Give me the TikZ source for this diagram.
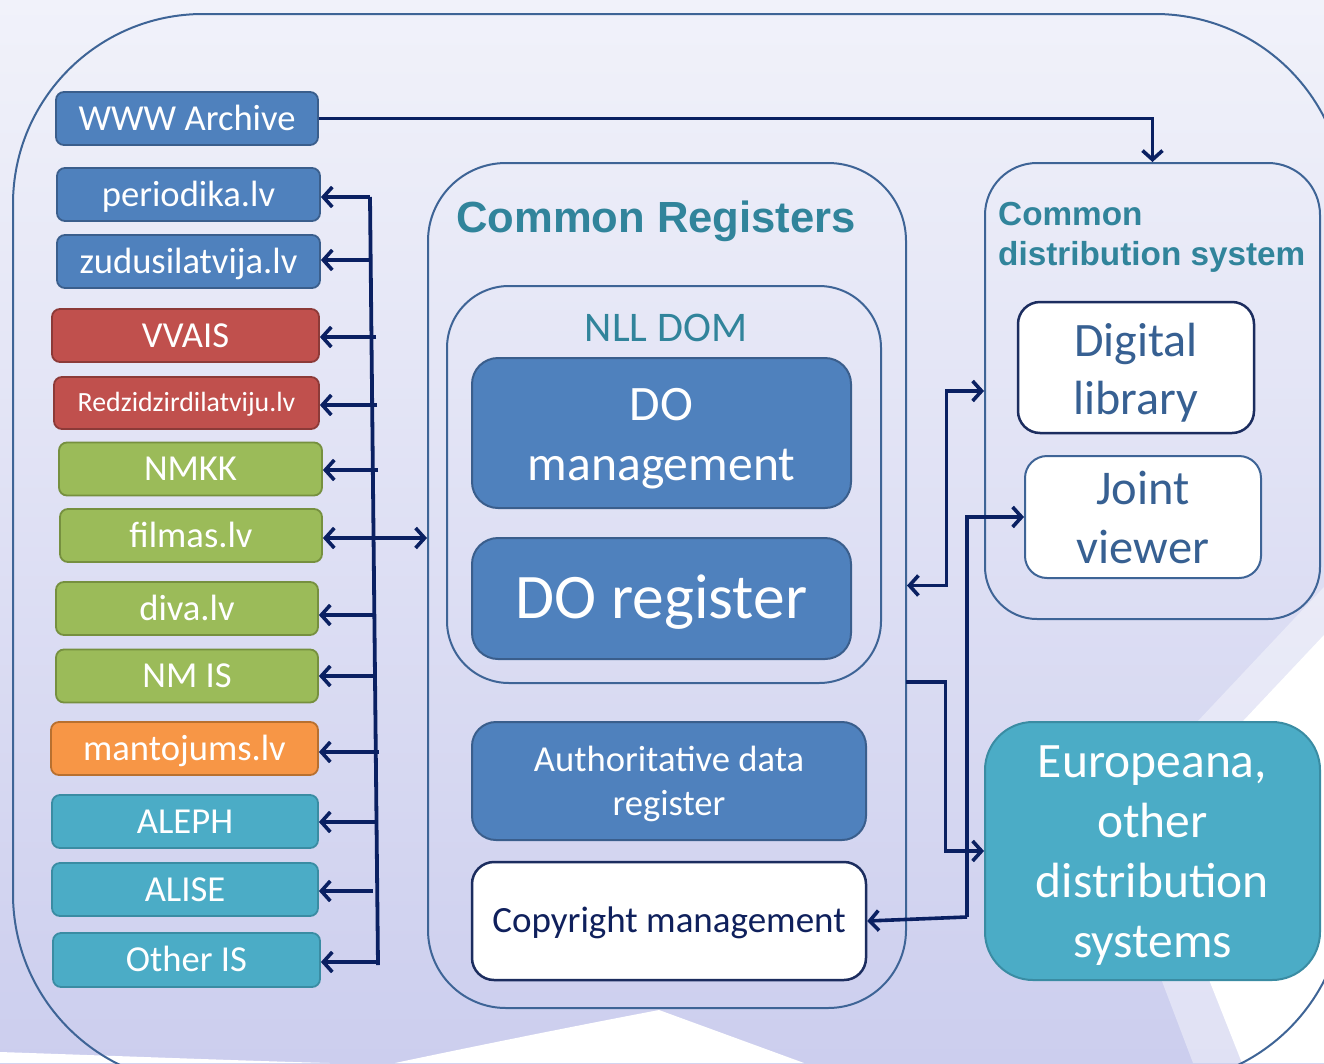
\documentclass[tikz,border=0pt]{standalone}
\usepackage{fontspec}
\setmainfont{Carlito}
\newfontfamily\arialfont{Liberation Sans}
\usetikzlibrary{arrows.meta,calc}
\definecolor{bgtop}{RGB}{241,242,250}
\definecolor{bgbot}{RGB}{204,206,238}
\definecolor{frame}{RGB}{62,100,150}
\definecolor{navy}{RGB}{10,32,98}
\definecolor{navyb}{RGB}{28,45,95}
\definecolor{cblue}{RGB}{79,129,189}
\definecolor{cblueb}{RGB}{58,94,140}
\definecolor{cred}{RGB}{192,80,77}
\definecolor{credb}{RGB}{140,58,56}
\definecolor{cgreen}{RGB}{155,187,89}
\definecolor{cgreenb}{RGB}{118,144,63}
\definecolor{corange}{RGB}{247,150,70}
\definecolor{corangeb}{RGB}{184,112,47}
\definecolor{cteal}{RGB}{75,172,198}
\definecolor{ctealb}{RGB}{58,140,163}
\definecolor{tealtxt}{RGB}{49,132,155}
\definecolor{dltxt}{RGB}{55,96,146}
\definecolor{cprtxt}{RGB}{15,32,92}
\begin{document}
\begin{tikzpicture}[x=1pt,y=-1pt,
  tipb/.tip={Straight Barb[length=9pt,width=20pt]},
  arr/.style={draw=navy, line width=3.6pt, -tipb},
  biarr/.style={draw=navy, line width=3.6pt, tipb-tipb},
  busline/.style={draw=navy, line width=3.8pt},
  cont/.style={draw=frame, line width=2pt},
  lbox/.style={rounded corners=8pt, line width=1.8pt, minimum height=53pt, inner sep=0pt,
    text=white, font=\fontsize{36.6}{43}\selectfont, text height=23.1pt, text depth=0pt},
  blueb/.style={lbox, fill=cblue, draw=cblueb},
  redb/.style={lbox, fill=cred, draw=credb},
  greenb/.style={lbox, fill=cgreen, draw=cgreenb},
  orangeb/.style={lbox, fill=corange, draw=corangeb},
  tealb/.style={lbox, fill=cteal, draw=ctealb},
  dbox/.style={fill=cblue, draw=cblueb, line width=2pt, rounded corners=26pt, inner sep=0pt, text=white},
  wbox/.style={fill=white, line width=2.5pt, rounded corners=22pt, inner sep=0pt},
]
\useasboundingbox (0,0) rectangle (1324,1063);
\clip (0,0) rectangle (1324,1063);
% background
\shade[top color=bgtop, bottom color=bgbot] (0,0) rectangle (1324,1063);
\fill[white] (0,1063) -- (0,1052) .. controls (120,1056) and (250,1061) .. (330,1063) -- cycle;
\fill[white] (395,1063) .. controls (480,1045) and (580,1025) .. (659,1010) -- (804,1063) -- cycle;
\fill[white, opacity=0.4] (1324,587) -- (1102,823) -- (1193,1063) -- (1324,1063) -- cycle;
\fill[white] (1324,635) -- (1147,823) -- (1242,1063) -- (1324,1063) -- cycle;
\draw[frame, line width=2pt, rounded corners=190pt] (13,14) rectangle (1345,1084);

% left column
\node[blueb, minimum width=262pt] (www) at (187,118.5) {WWW Archive};
\node[blueb, minimum width=263pt] (per) at (188.5,194.5) {periodika.lv};
\node[blueb, minimum width=263pt] (zud) at (188.5,261.5) {zudusilatvija.lv};
\node[redb, minimum width=267pt] (vva) at (185.5,335.5) {VVAIS};
\node[redb, minimum width=265pt, minimum height=52pt, font=\fontsize{27.8}{33}\selectfont, text height=17.6pt] (red) at (186.5,403) {Redzidzirdilatviju.lv};
\node[greenb, minimum width=263pt] (nmk) at (190.5,469) {NMKK};
\node[greenb, minimum width=262pt] (fil) at (191,535.5) {filmas.lv};
\node[greenb, minimum width=262pt] (div) at (187,608.5) {diva.lv};
\node[greenb, minimum width=262pt] (nmi) at (187,676) {NM IS};
\node[orangeb, minimum width=267pt] (man) at (184.5,748.5) {mantojums.lv};
\node[tealb, minimum width=266pt] (ale) at (185,821.5) {ALEPH};
\node[tealb, minimum width=266pt] (als) at (185,889.5) {ALISE};
\node[tealb, minimum width=267pt, minimum height=54pt] (oth) at (186.5,960) {Other IS};

% common registers
\node[cont, rounded corners=78pt, minimum width=478pt, minimum height=845pt] (cr) at (667,585.5) {};
\node[anchor=base, inner sep=0pt, text=tealtxt, font=\arialfont\bfseries\fontsize{43.6}{50}\selectfont] (crt) at (656,232) {Common Registers};
\node[cont, rounded corners=62pt, minimum width=434pt, minimum height=397pt] (nll) at (664,484.5) {};
\node[anchor=base, inner sep=0pt, text=tealtxt, font=\fontsize{42.2}{49}\selectfont] (nllt) at (666,341) {NLL DOM};
\node[dbox, minimum width=379pt, minimum height=150pt, font=\fontsize{49.6}{60}\selectfont, align=center] (dom) at (661.5,433) {\rule{0pt}{44.2pt}DO\\management};
\node[dbox, minimum width=379pt, minimum height=121pt, font=\fontsize{63.5}{74}\selectfont, text height=40.1pt, text depth=0pt] (dor) at (661.5,598.5) {DO register};
\node[dbox, rounded corners=24pt, minimum width=394pt, minimum height=118pt, font=\fontsize{36.6}{44}\selectfont, align=center] (adr) at (669,781) {\rule{0pt}{31.6pt}Authoritative data\\register};
\node[wbox, draw=navyb, minimum width=394pt, minimum height=118pt, text=cprtxt, font=\fontsize{37}{44}\selectfont, text height=23.4pt, text depth=0pt] (cm) at (669,921) {Copyright management};

% common distribution system
\node[cont, rounded corners=52pt, minimum width=335pt, minimum height=456pt] (cds) at (1152.5,391) {};
\node[anchor=north west, inner sep=0pt, align=left, text=tealtxt, font=\arialfont\bfseries\fontsize{33.3}{39.5}\selectfont] (cdst) at (998,202.5) {Common\\distribution system};
\node[wbox, draw=navyb, minimum width=236pt, minimum height=131pt, text=dltxt, font=\fontsize{48}{58}\selectfont, align=center] (dl) at (1136,367.5) {\rule{0pt}{43pt}Digital\\library};
\node[wbox, draw=frame, line width=2pt, minimum width=236pt, minimum height=122pt, text=dltxt, font=\fontsize{48.5}{59}\selectfont, align=center] (jv) at (1143,517) {\rule{0pt}{31pt}Joint\\viewer};
\node[fill=cteal, draw=ctealb, line width=2pt, rounded corners=48pt, inner sep=0pt, minimum width=335pt, minimum height=258pt, text=white, font=\fontsize{49.5}{60}\selectfont, align=center] (eu) at (1152.5,851) {\rule{0pt}{40pt}Europeana,\\other\\distribution\\systems};

% connectors
\draw[arr] (www.east) -| (cds.north);
\coordinate (bustop) at (370,197);
\coordinate (busbot) at (378,965);
\draw[busline] (bustop) -- (busbot);
\foreach \n/\bx/\ay in {per/370/197, zud/371/260, vva/376/337, red/377/405, nmk/378/470, div/374/615, nmi/375/676, man/379/752, ale/377/822, als/373/891, oth/378/962}
  {\draw[arr] (\bx,\ay) -- (\n.east |- \bx,\ay);}
\draw[biarr] (fil.east |- 0,538) -- (cr.west |- 0,538);
\draw[biarr] (cr.east) -- ++(39.5,0) |- (cds.west);
\coordinate (crout) at (906,682);
\draw[arr] (crout) -- ++(39.5,0) |- (eu.west);
\coordinate (cj) at (967,917);
\draw[arr] (cj) |- (jv.west);
\draw[arr] (cj) -- (cm.east);
\end{tikzpicture}
\end{document}
